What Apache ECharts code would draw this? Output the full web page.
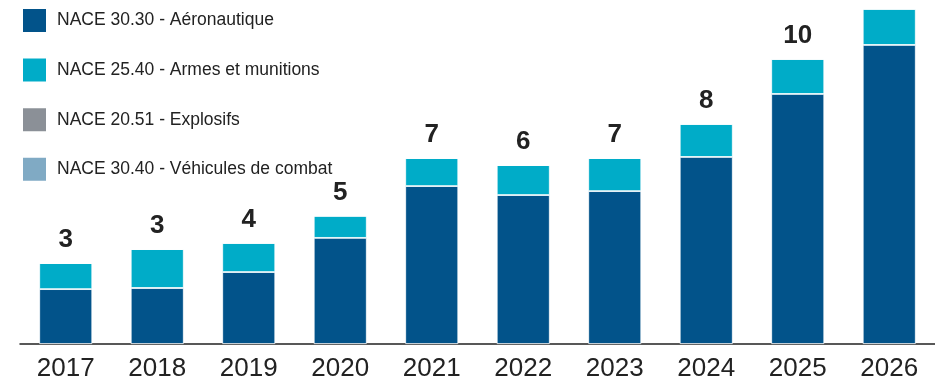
<!DOCTYPE html>
<html><head><meta charset="utf-8">
<script src="https://cdn.jsdelivr.net/npm/echarts@6/dist/echarts.min.js"></script>
<style>html,body{margin:0;padding:0;background:#fff}#c{width:935px;height:384px}</style>
</head><body><div id="c"></div>
<script>
const years = ['2017','2018','2019','2020','2021','2022','2023','2024','2025','2026'];
const aero = [1.96, 2.0, 2.57, 3.79, 5.64, 5.32, 5.46, 6.68, 8.93, 10.68];
const armes = [0.93, 1.39, 1.04, 0.79, 1.0, 1.07, 1.18, 1.18, 1.25, 1.29];
const explosifs = [0, 0, 0, 0, 0, 0, 0, 0, 0, 0];
const vehicules = [0, 0, 0, 0, 0, 0, 0, 0, 0, 0];
const totalLabels = ['3','3','4','5','7','6','7','8','10',''];
const names = ['NACE 30.30 - Aéronautique','NACE 25.40 - Armes et munitions','NACE 20.51 - Explosifs','NACE 30.40 - Véhicules de combat'];
const colors = ['#02538A','#00ACC8','#8B9097','#80AAC4'];

const FONT = '"Liberation Sans Narrow","Arial Narrow","Liberation Sans",sans-serif';
const chart = echarts.init(document.getElementById('c'));
const mk = (i, data, extra) => Object.assign({
  name: names[i], type: 'bar', stack: 't', data: data, barWidth: 53,
  itemStyle: {color: colors[i], borderColor: '#ffffff', borderWidth: 0.8},
  animation: false
}, extra || {});
chart.setOption({
  animation: false,
  textStyle: {fontFamily: FONT},
  legend: {
    orient: 'vertical', left: 16, top: 2, itemWidth: 25, itemHeight: 25, itemGap: 22.6,
    icon: 'rect',
    textStyle: {fontFamily: FONT, fontSize: 17.5, color: '#222', padding: [0,0,0,5]},
    data: names
  },
  grid: {left: 20, right: -10, top: 0, bottom: 40},
  xAxis: {
    type: 'category', data: years,
    axisLine: {lineStyle: {color: '#222', width: 1.5}},
    axisTick: {show: false},
    axisLabel: {fontFamily: FONT, fontSize: 26, color: '#222', margin: 12}
  },
  yAxis: {type: 'value', min: 0, max: 344/28, show: false, splitLine: {show: false}},
  series: [
    mk(0, aero),
    mk(1, armes, {label: {show: true, position: 'top', distance: 10,
      fontFamily: FONT, fontWeight: 'bold', fontSize: 26, color: '#222',
      formatter: p => totalLabels[p.dataIndex]}}),
    mk(2, explosifs),
    mk(3, vehicules)
  ]
});
</script></body></html>
